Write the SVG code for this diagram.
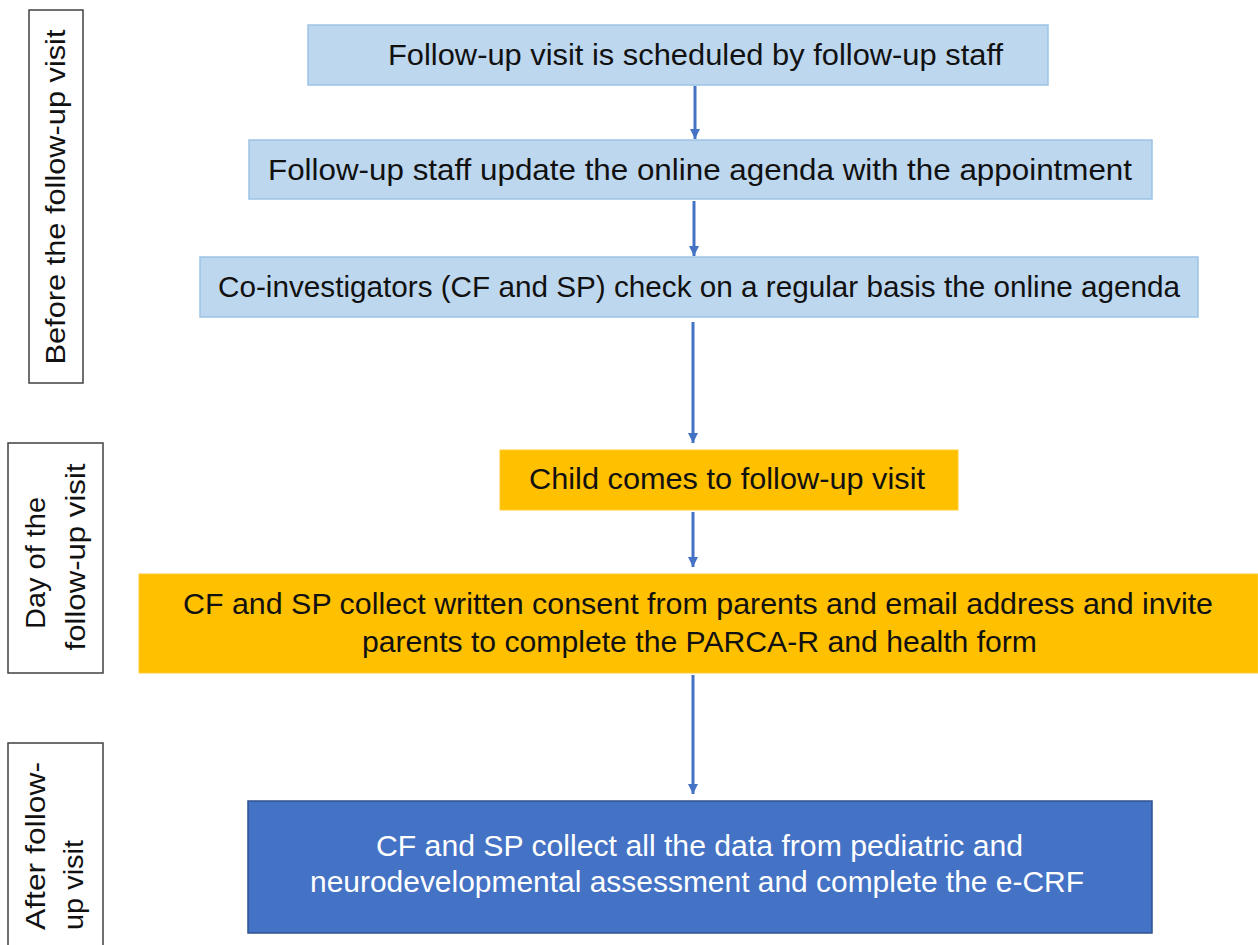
<svg xmlns="http://www.w3.org/2000/svg" width="1258" height="945" viewBox="0 0 1258 945">
  <defs>
    <marker id="arrowhead" markerWidth="10" markerHeight="10" refX="10" refY="5" orient="auto" markerUnits="userSpaceOnUse">
      <path d="M0,0 L10,5 L0,10 Z" fill="#4472C4"/>
    </marker>
    <style>
      text { font-family: "Liberation Sans", Arial, sans-serif; }
      .step-light { fill: #BDD7EE; stroke: #9DC3E6; stroke-width: 1.5; }
      .step-amber { fill: #FFC000; stroke: #FFCB33; stroke-width: 1; }
      .step-dark { fill: #4472C4; stroke: #2F528F; stroke-width: 1.5; }
      .phase { fill: #FFFFFF; stroke: #404040; stroke-width: 1.5; }
      .lbl { font-size: 29px; fill: #111111; }
      .lbl-w { font-size: 29px; fill: #FFFFFF; }
      .phase-lbl { font-size: 27px; fill: #111111; }
      .link { stroke: #4472C4; stroke-width: 3; fill: none; marker-end: url(#arrowhead); }
    </style>
  </defs>

  <rect width="1258" height="945" fill="#FFFFFF"/>

  <!-- Phase labels on the left -->
  <g id="phase-before">
    <rect class="phase" x="29" y="10" width="54" height="373"/>
    <text class="phase-lbl" transform="translate(65,197) rotate(-90)" text-anchor="middle" textLength="335" lengthAdjust="spacingAndGlyphs">Before the follow-up visit</text>
  </g>
  <g id="phase-day">
    <rect class="phase" x="8" y="443" width="95" height="230"/>
    <text class="phase-lbl" transform="translate(45,563) rotate(-90)" text-anchor="middle" textLength="132" lengthAdjust="spacingAndGlyphs">Day of the</text>
    <text class="phase-lbl" transform="translate(85,557) rotate(-90)" text-anchor="middle" textLength="187" lengthAdjust="spacingAndGlyphs">follow-up visit</text>
  </g>
  <g id="phase-after">
    <rect class="phase" x="8" y="743" width="95" height="210"/>
    <text class="phase-lbl" transform="translate(45,930) rotate(-90)" textLength="168" lengthAdjust="spacingAndGlyphs">After follow-</text>
    <text class="phase-lbl" transform="translate(83,930) rotate(-90)" textLength="90" lengthAdjust="spacingAndGlyphs">up visit</text>
  </g>

  <!-- Process steps -->
  <g id="step-schedule">
    <rect class="step-light" x="308" y="25" width="740" height="60"/>
    <text class="lbl" x="388" y="65" textLength="615" lengthAdjust="spacingAndGlyphs">Follow-up visit is scheduled by follow-up staff</text>
  </g>
  <g id="step-agenda">
    <rect class="step-light" x="249" y="140" width="903" height="59"/>
    <text class="lbl" x="268" y="180" textLength="864" lengthAdjust="spacingAndGlyphs">Follow-up staff update the online agenda with the appointment</text>
  </g>
  <g id="step-check">
    <rect class="step-light" x="200" y="257" width="998" height="60"/>
    <text class="lbl" x="218" y="297" textLength="962" lengthAdjust="spacingAndGlyphs">Co-investigators (CF and SP) check on a regular basis the online agenda</text>
  </g>
  <g id="step-visit">
    <rect class="step-amber" x="500" y="450" width="458" height="60"/>
    <text class="lbl" x="529" y="489" textLength="396" lengthAdjust="spacingAndGlyphs">Child comes to follow-up visit</text>
  </g>
  <g id="step-consent">
    <rect class="step-amber" x="139" y="574" width="1119" height="99"/>
    <text class="lbl" x="183" y="614" textLength="1030" lengthAdjust="spacingAndGlyphs">CF and SP collect written consent from parents and email address and invite</text>
    <text class="lbl" x="362" y="652" textLength="675" lengthAdjust="spacingAndGlyphs">parents to complete the PARCA-R and health form</text>
  </g>
  <g id="step-data">
    <rect class="step-dark" x="248" y="801" width="904" height="132"/>
    <text class="lbl-w" x="376" y="856" textLength="647" lengthAdjust="spacingAndGlyphs">CF and SP collect all the data from pediatric and</text>
    <text class="lbl-w" x="310" y="892" textLength="774" lengthAdjust="spacingAndGlyphs">neurodevelopmental assessment and complete the e-CRF</text>
  </g>

  <!-- Connectors -->
  <g id="connectors">
    <line class="link" x1="695" y1="86" x2="695" y2="139"/>
    <line class="link" x1="694" y1="201" x2="694" y2="256"/>
    <line class="link" x1="693" y1="322" x2="693" y2="443"/>
    <line class="link" x1="693" y1="512" x2="693" y2="567"/>
    <line class="link" x1="693" y1="675" x2="693" y2="794"/>
  </g>
</svg>
